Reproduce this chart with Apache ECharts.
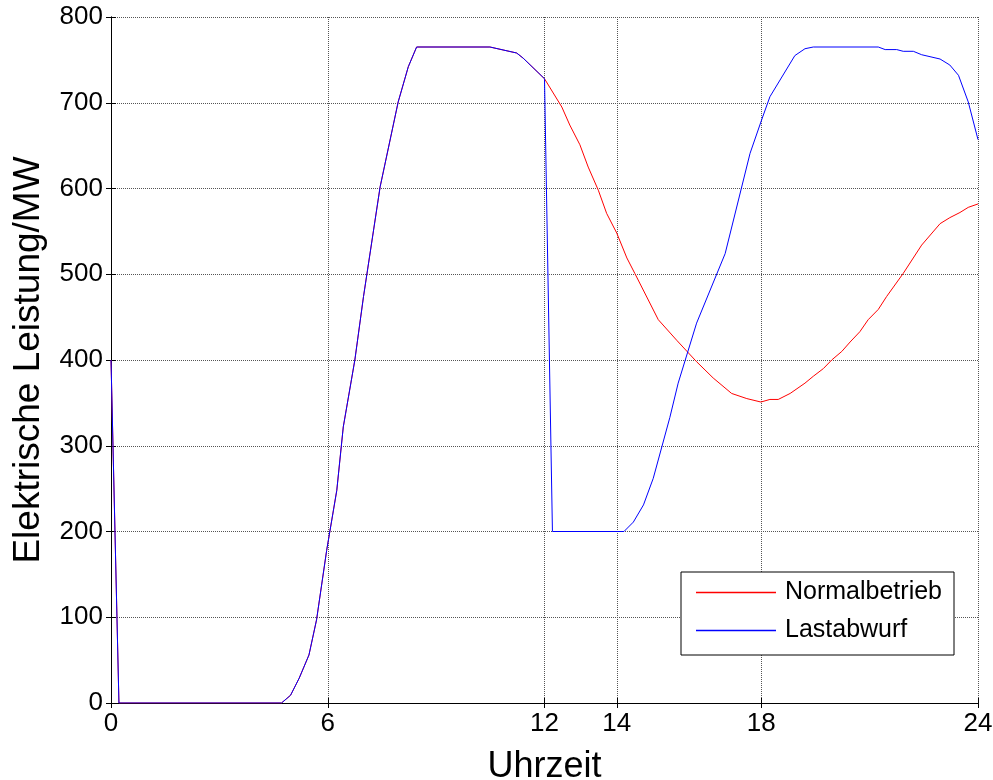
<!DOCTYPE html>
<html>
<head>
<meta charset="utf-8">
<script src="https://cdn.jsdelivr.net/npm/echarts@6/dist/echarts.min.js"></script>
<style>html,body{margin:0;padding:0;background:#fff}#c{width:993px;height:780px}</style>
</head>
<body>
<div id="c"></div>
<script>
// x tick labels
const xTicks = [0, 6, 12, 14, 18, 24];
const seriesNames = ['Normalbetrieb', 'Lastabwurf'];

// Normalbetrieb (red)
const hoursNormal = [0, 0.22, 4.72, 4.97, 5.21, 5.48, 5.69, 5.97, 6.25, 6.43, 6.75, 6.99, 7.45, 7.95, 8.23, 8.46, 10.49, 11.23, 11.41, 12.0,
  12.48, 12.7, 12.98, 13.21, 13.49, 13.72, 14.0, 14.28, 14.5, 15.15, 15.66, 16.21, 16.67, 17.18, 17.6, 17.99, 18.24, 18.47, 18.8,
  19.21, 19.44, 19.72, 19.95, 20.23, 20.46, 20.73, 20.96, 21.24, 21.47, 21.93, 22.44, 22.95, 23.22, 23.5, 23.73, 24];
const normal = [400, 0, 0, 9, 29, 56, 97, 178, 248, 322, 400, 474, 602, 701, 742, 765, 765, 758, 752, 728,
  695, 674, 651, 625, 598, 571, 548, 519, 501, 447, 423, 398, 379, 361, 355, 351, 354, 354, 361,
  373, 381, 390, 400, 410, 421, 433, 447, 459, 474, 501, 534, 559, 566, 572, 578, 582];

// Lastabwurf (blue)
const hoursLast = [0, 0.22, 4.72, 4.97, 5.21, 5.48, 5.69, 5.97, 6.25, 6.43, 6.75, 6.99, 7.45, 7.95, 8.23, 8.46, 10.49, 11.23, 11.41, 12.0,
  12.22, 14.2, 14.46, 14.74, 15.01, 15.47, 15.70, 16.21, 17.0, 17.69, 18.01, 18.24, 18.93, 19.21, 19.44, 21.24, 21.43, 21.75, 21.93,
  22.21, 22.44, 22.95, 23.22, 23.46, 23.73, 24];
const last = [400, 0, 0, 9, 29, 56, 97, 178, 248, 322, 400, 474, 602, 701, 742, 765, 765, 758, 752, 728,
  200, 200, 211, 231, 262, 333, 373, 443, 524, 641, 680, 707, 755, 763, 765, 765, 762, 762, 760,
  760, 756, 751, 744, 732, 701, 657];

const pairs = (xs, ys) => xs.map((x, i) => [x, ys[i]]);
const font = 'Liberation Sans, Arial, sans-serif';
const grid = {type: 'dotted', color: '#555', width: 1};

const chart = echarts.init(document.getElementById('c'), null, {renderer: 'canvas'});
chart.setOption({
  animation: false,
  backgroundColor: '#fff',
  grid: {left: 111, right: 15, top: 17, bottom: 77, containLabel: false, outerBoundsMode: 'none'},
  legend: {
    orient: 'vertical',
    left: 681, top: 572,
    data: seriesNames,
    icon: 'rect',
    backgroundColor: '#fff',
    borderColor: '#000', borderWidth: 1, borderRadius: 0,
    padding: [8, 12, 12, 15],
    itemGap: 13,
    itemWidth: 80, itemHeight: 1.5,
    textStyle: {fontFamily: font, fontSize: 25, color: '#000', padding: [0, 0, 0, 4]}
  },
  xAxis: [{
    type: 'value', min: 0, max: 24, position: 'bottom',
    name: 'Uhrzeit', nameLocation: 'middle', nameGap: 46,
    nameTextStyle: {fontFamily: font, fontSize: 36, color: '#000'},
    axisLine: {show: true, lineStyle: {color: '#000', width: 1}},
    axisTick: {show: true, inside: true, length: 5, customValues: xTicks, lineStyle: {color: '#000'}},
    axisLabel: {customValues: xTicks, fontFamily: font, fontSize: 26, color: '#000', margin: 8},
    splitLine: {show: true, lineStyle: grid}
  }, {
    type: 'value', min: 0, max: 24, position: 'top',
    axisLine: {show: true, lineStyle: {color: '#000', width: 1}},
    axisTick: {show: true, inside: true, length: 5, customValues: xTicks, lineStyle: {color: '#000'}},
    axisLabel: {show: false, customValues: xTicks},
    splitLine: {show: false}
  }],
  yAxis: [{
    type: 'value', min: 0, max: 800, interval: 100, position: 'left',
    name: 'Elektrische Leistung/MW', nameLocation: 'middle', nameGap: 64,
    nameTextStyle: {fontFamily: font, fontSize: 37, color: '#000'},
    axisLine: {show: true, lineStyle: {color: '#000', width: 1}},
    axisTick: {show: true, inside: true, length: 5, lineStyle: {color: '#000'}},
    axisLabel: {fontFamily: font, fontSize: 26, color: '#000', margin: 8},
    splitLine: {show: true, lineStyle: grid}
  }, {
    type: 'value', min: 0, max: 800, interval: 100, position: 'right',
    axisLine: {show: true, lineStyle: {color: '#000', width: 1}},
    axisTick: {show: true, inside: true, length: 5, lineStyle: {color: '#000'}},
    axisLabel: {show: false},
    splitLine: {show: false}
  }],
  series: [{
    name: seriesNames[0], type: 'line', symbol: 'none',
    lineStyle: {color: '#ff0000', width: 1}, itemStyle: {color: '#ff0000'},
    data: pairs(hoursNormal, normal), z: 2
  }, {
    name: seriesNames[1], type: 'line', symbol: 'none',
    lineStyle: {color: '#0000ff', width: 1}, itemStyle: {color: '#0000ff'},
    data: pairs(hoursLast, last), z: 3
  }]
});
</script>
</body>
</html>
